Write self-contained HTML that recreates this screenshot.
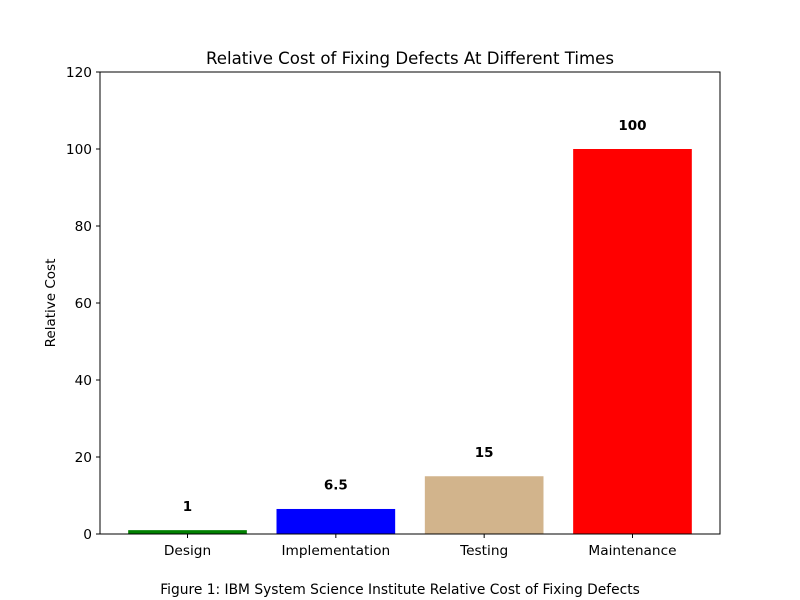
<!DOCTYPE html>
<html><head><meta charset="utf-8"><style>
body{margin:0;background:#fff;}
svg{display:block;font-family:"DejaVu Sans","Liberation Sans",sans-serif;}
</style></head><body>
<svg id="chart" width="800" height="600">
<text x="410" y="64" text-anchor="middle" font-size="16.6">Relative Cost of Fixing Defects At Different Times</text>
<text transform="translate(55,303) rotate(-90)" text-anchor="middle" font-size="13.5">Relative Cost</text>
<text x="400" y="594" text-anchor="middle" font-size="13.8">Figure 1: IBM System Science Institute Relative Cost of Fixing Defects</text>
<g id="plot"></g>
</svg>
<script>
const categories=["Design","Implementation","Testing","Maintenance"];
const values=[1,6.5,15,100];
const valueLabels=["1","6.5","15","100"];
const colors=["green","blue","tan","red"];
const yTicks=[0,20,40,60,80,100,120];
const L=100,R=720,T=72,B=534,yMax=120;
const xMin=-0.59,xMax=3.59;
const NS="http://www.w3.org/2000/svg";
const g=document.getElementById('plot');
const y=v=>B-(v/yMax)*(B-T);
const unit=(R-L)/(xMax-xMin);
const x=i=>L+unit*(i-xMin);
function mk(t,a){const e=document.createElementNS(NS,t);for(const k in a)e.setAttribute(k,a[k]);g.appendChild(e);return e;}
categories.forEach((c,i)=>{
  const bw=unit*0.8;
  const r=mk('rect',{x:x(i)-bw/2,y:y(values[i]),width:bw,height:B-y(values[i]),fill:colors[i]});
  
  
  const t=mk('text',{x:x(i),y:y(values[i]+5),'text-anchor':'middle','font-size':13.5,'font-weight':'bold'});
  t.textContent=valueLabels[i];
  
  
  mk('line',{x1:x(i),x2:x(i),y1:B,y2:B+4,stroke:'#000'});
  const xl=mk('text',{x:x(i),y:B+21,'text-anchor':'middle','font-size':13.7});
  xl.textContent=c;
  
  
});
yTicks.forEach(v=>{
  mk('line',{x1:L-4,x2:L,y1:y(v),y2:y(v),stroke:'#000'});
  const t=mk('text',{x:L-8,y:y(v)+5,'text-anchor':'end','font-size':13.7});
  t.textContent=v;
  
  
});
const f=mk('rect',{x:L,y:T,width:R-L,height:B-T,fill:'none',stroke:'#000','stroke-width':1});


</script>
</body></html>
